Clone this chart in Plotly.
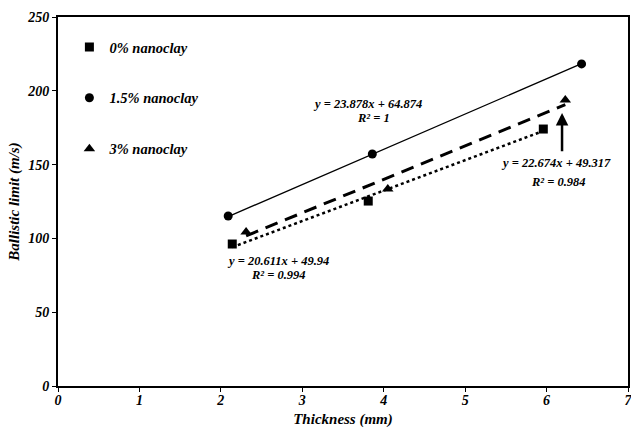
import plotly.graph_objects as go

# Data
series_names = ["0% nanoclay", "1.5% nanoclay", "3% nanoclay"]
thickness_0 = [2.14, 3.81, 5.96]
limit_0 = [96.2, 125.3, 174.1]
thickness_15 = [2.09, 3.86, 6.43]
limit_15 = [115.2, 157.2, 218.2]
thickness_3 = [2.31, 4.05, 6.23]
limit_3 = [104.3, 133.5, 193.8]

# Linear trendline parameters shown on the chart
slopes = [20.611, 23.878, 22.674]
intercepts = [49.94, 64.874, 49.317]
r2_values = ["0.994", "1", "0.984"]

x_ticks = [0, 1, 2, 3, 4, 5, 6, 7]
y_ticks = [0, 50, 100, 150, 200, 250]

FONT = "Liberation Serif, Times New Roman, serif"

xs = [thickness_0, thickness_15, thickness_3]
ys = [limit_0, limit_15, limit_3]
symbols = ["square", "circle", "triangle-up"]
widths = [2.5, 1.3, 3]
dash_pat = ["dot", "solid", "13px,8px"]

fig = go.Figure()

for i in range(3):
    x0, x1 = min(xs[i]), max(xs[i])
    fig.add_trace(go.Scatter(
        x=[x0, x1],
        y=[slopes[i] * x0 + intercepts[i], slopes[i] * x1 + intercepts[i]],
        mode="lines",
        line=dict(color="black", width=widths[i], dash=dash_pat[i]),
        showlegend=False, hoverinfo="skip",
    ))

for i in range(3):
    fig.add_trace(go.Scatter(
        x=xs[i], y=ys[i], mode="markers", name="<b><i>" + series_names[i] + "</i></b>",
        legendgroup=str(i),
        marker=dict(symbol=symbols[i], color="black", size=9 if i != 2 else 10),
    ))

ann_font = dict(family=FONT, size=12.5, color="black")
# equation labels
fig.add_annotation(x=3.8, y=191, xref="x", yref="y", text="<b><i>y = %.3fx + %.3f</i></b>" % (slopes[1], intercepts[1]),
                   showarrow=False, font=ann_font)
fig.add_annotation(x=3.87, y=181.5, xref="x", yref="y", text="<b><i>R² = %s</i></b>" % r2_values[1],
                   showarrow=False, font=ann_font)
fig.add_annotation(x=6.11, y=151, xref="x", yref="y", text="<b><i>y = %.3fx + %.3f</i></b>" % (slopes[2], intercepts[2]),
                   showarrow=False, font=ann_font)
fig.add_annotation(x=6.15, y=138.5, xref="x", yref="y", text="<b><i>R² = %s</i></b>" % r2_values[2],
                   showarrow=False, font=ann_font)
fig.add_annotation(x=2.7, y=85, xref="x", yref="y", text="<b><i>y = %.3fx + %.2f</i></b>" % (slopes[0], intercepts[0]),
                   showarrow=False, font=ann_font)
fig.add_annotation(x=2.71, y=75, xref="x", yref="y", text="<b><i>R² = %s</i></b>" % r2_values[0],
                   showarrow=False, font=ann_font)
# arrow pointing at the 3% trend
fig.add_annotation(x=6.19, y=185, ax=6.19, ay=158, xref="x", yref="y", axref="x", ayref="y",
                   text="", showarrow=True, arrowhead=2, arrowsize=1, arrowwidth=2.5, arrowcolor="black")

tick_font = dict(family=FONT, size=14, color="black")
title_font = dict(family=FONT, size=15, color="black")

fig.update_layout(
    width=631, height=428,
    margin=dict(l=58, r=1, t=17, b=42),
    paper_bgcolor="white", plot_bgcolor="white",
    showlegend=True,
    legend=dict(x=0.02, y=0.962, xanchor="left", yanchor="top",
                font=dict(family=FONT, size=14.5, color="black"),
                tracegroupgap=29, itemwidth=30, bgcolor="rgba(0,0,0,0)"),
    xaxis=dict(range=[0, 7], tickvals=x_ticks, ticktext=["<b><i>%d</i></b>" % v for v in x_ticks],
               showgrid=False, zeroline=False, showline=True, linecolor="black", linewidth=2,
               mirror=True, ticks="outside", ticklen=4, tickcolor="black", tickfont=tick_font,
               automargin=False, ticklabelstandoff=-4, ticklabeloverflow="allow",
               title=dict(text="<b><i>Thickness (mm)</i></b>", font=title_font)),
    yaxis=dict(range=[0, 250], tickvals=y_ticks, ticktext=["<b><i>%d</i></b>" % v for v in y_ticks],
               showgrid=False, zeroline=False, showline=True, linecolor="black", linewidth=2,
               mirror=True, ticks="outside", ticklen=4, tickcolor="black", tickfont=tick_font,
               automargin=True,
               title=dict(text="<b><i>Ballistic limit (m/s)</i></b>", font=title_font, standoff=4)),
)

fig.write_html("out.html", config={"displayModeBar": False},
               post_script="document.body.style.margin='0';document.body.style.overflow='hidden';")
